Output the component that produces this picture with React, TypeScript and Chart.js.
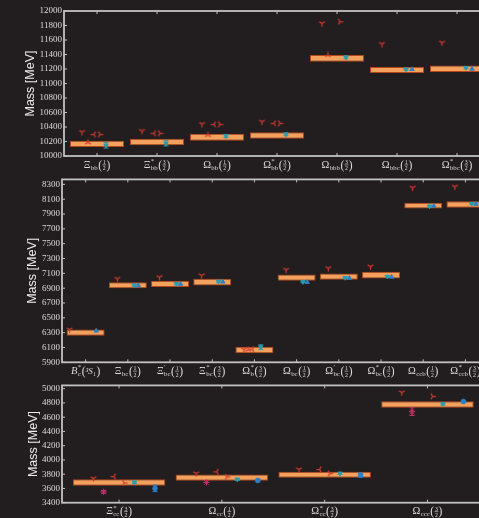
import React, { useEffect, useRef } from "react";
import { Chart, registerables } from "chart.js";

Chart.register(...registerables);

// ---------- bottom sector (bb, bbb, bbc) ----------
const bbLabels = ["Ξ_{bb}(1/2)", "Ξ^{*}_{bb}(3/2)", "Ω_{bb}(1/2)", "Ω^{*}_{bb}(3/2)", "Ω_{bbb}(3/2)", "Ω_{bbc}(1/2)", "Ω^{*}_{bbc}(3/2)"];
const bbTicks = [10000, 10200, 10400, 10600, 10800, 11000, 11200, 11400, 11600, 11800, 12000];
const bbMass = [10168, 10193, 10260, 10283, 11347, 11186, 11203];
const bbUnc = [43, 45, 48, 44, 46, 42, 44];
const bbModelA = [10331, 10345, 10441, 10473, 11830, 11545, 11563];
const bbModelB = [10189, null, 10290, null, 11393, null, null];
const bbModelC = [10299, 10313, 10437, 10451, null, null, null];
const bbModelD = [10299, 10313, 10437, 10451, 11852, null, null];
const bbLatticeE = [10148, 10175, 10276, 10299, 11361, 11196, 11218];
const bbLatticeEErr = [38, 36, 20, 20, 18, 15, 15];
const bbLatticeF = [null, null, null, null, null, 11196, 11200];

// ---------- mixed bottom-charm sector ----------
const bcLabels = ["B^{*}_{c}(³S₁)", "Ξ_{bc}(1/2)", "Ξ^{′}_{bc}(1/2)", "Ξ^{*}_{bc}(3/2)", "Ω^{*}_{b}(3/2)", "Ω_{bc}(1/2)", "Ω^{′}_{bc}(1/2)", "Ω^{*}_{bc}(3/2)", "Ω_{ccb}(1/2)", "Ω^{*}_{ccb}(3/2)"];
const bcTicks = [5900, 6100, 6300, 6500, 6700, 6900, 7100, 7300, 7500, 7700, 7900, 8100, 8300];
const bcMass = [6300, 6940, 6957, 6981, 6065, 7042, 7055, 7075, 8013, 8029];
const bcUnc = [43, 40, 43, 45, 44, 43, 43, 45, 40, 43];
const bcModelH = [6340, null, null, null, null, null, null, null, null, null];
const bcModelA = [null, 7026, 7048, 7071, 6075, 7147, 7169, 7191, 8255, 8268];
const bcModelB = [null, null, null, null, 6070, null, null, null, null, null];
const bcModelC = [null, null, null, null, 6078, null, null, null, null, null];
const bcLatticeE = [null, 6940, 6960, 6990, 6105, 6985, 7040, 7057, 8005, 8040];
const bcLatticeEErr = [null, 15, 15, 15, 30, 12, 12, 12, 12, 12];
const bcLatticeF = [6324, 6935, 6955, 6985, null, 6980, 7035, 7052, 8010, 8035];

// ---------- charm sector (cc, ccc) ----------
const ccLabels = ["Ξ^{*}_{cc}(3/2)", "Ω_{cc}(1/2)", "Ω^{*}_{cc}(3/2)", "Ω_{ccc}(3/2)"];
const ccTicks = [3400, 3600, 3800, 4000, 4200, 4400, 4600, 4800, 5000];
const ccMass = [3683, 3752, 3792, 4778];
const ccUnc = [45, 45, 42, 44];
const ccModelA = [3741, 3811, 3867, 4946];
const ccModelB = [3552, 3685, null, 4678];
const ccModelBErr = [18, null, null, 55];
const ccModelC = [3768, 3834, 3867, null];
const ccModelD = [3678, 3764, 3811, 4892];
const ccLatticeE = [3685, 3727, 3811, 4785];
const ccLatticeEErr = [15, 15, 15, 15];
const ccLatticeG = [3601, 3713, 3787, 4820];
const ccLatticeGErr = [45, 20, 25, 15];

// ---------- styling ----------
const BG = "#221d1e";
const AXIS = "#c2c2c2";
const TEXT = "#dcdcdc";
const BOX_FILL = "#f5a15e";
const BOX_EDGE = "#b4461c";
const RED = "#cf3a30";
const MAGENTA = "#c8306a";
const TEAL = "#2a9cb0";
const BLUE = "#2c80c6";
const SERIF = "'Liberation Serif', 'DejaVu Serif', serif";
const SANS = "'Liberation Sans', Arial, sans-serif";

type Marker = "triDown" | "triUp" | "triLeft" | "triRight" | "star" | "triangleDown" | "triangle" | "circle";
type Series = { values: (number | null)[]; errors?: (number | null)[]; offset: number; marker: Marker; color: string };
type Panel = {
  labels: string[];
  ticks: number[];
  mass: number[];
  unc: number[];
  yMin: number;
  yMax: number;
  xMin: number;
  xMax: number;
  height: number;
  top: number;
  padTop: number;
  padBottom: number;
  axisWidth: number;
  titlePad: number;
  series: Series[];
};

const panels: Panel[] = [
  {
    labels: bbLabels, ticks: bbTicks, mass: bbMass, unc: bbUnc,
    yMin: 10000, yMax: 12000, xMin: -0.55, xMax: 6.45,
    top: 0, height: 172, padTop: 11, padBottom: 16, axisWidth: 64, titlePad: 23,
    series: [
      { values: bbModelA, offset: -0.25, marker: "triDown", color: RED },
      { values: bbModelB, offset: -0.15, marker: "triUp", color: RED },
      { values: bbModelC, offset: -0.05, marker: "triLeft", color: RED },
      { values: bbModelD, offset: 0.05, marker: "triRight", color: RED },
      { values: bbLatticeE, errors: bbLatticeEErr, offset: 0.15, marker: "triangleDown", color: TEAL },
      { values: bbLatticeF, offset: 0.25, marker: "triangle", color: BLUE },
    ],
  },
  {
    labels: bcLabels, ticks: bcTicks, mass: bcMass, unc: bcUnc,
    yMin: 5900, yMax: 8367, xMin: -0.56, xMax: 9.44,
    top: 172, height: 206, padTop: 6.3, padBottom: 15.7, axisWidth: 62, titlePad: 25,
    series: [
      { values: bcModelH, offset: -0.38, marker: "triDown", color: RED },
      { values: bcModelA, offset: -0.25, marker: "triDown", color: RED },
      { values: bcModelB, offset: -0.15, marker: "triUp", color: RED },
      { values: bcModelC, offset: -0.05, marker: "triLeft", color: RED },
      { values: bcLatticeE, errors: bcLatticeEErr, offset: 0.15, marker: "triangleDown", color: TEAL },
      { values: bcLatticeF, offset: 0.25, marker: "triangle", color: BLUE },
    ],
  },
  {
    labels: ccLabels, ticks: ccTicks, mass: ccMass, unc: ccUnc,
    yMin: 3400, yMax: 5046, xMin: -0.555, xMax: 3.55,
    top: 378, height: 140, padTop: 7, padBottom: 15.3, axisWidth: 62, titlePad: 26,
    series: [
      { values: ccModelA, offset: -0.25, marker: "triDown", color: RED },
      { values: ccModelB, errors: ccModelBErr, offset: -0.15, marker: "star", color: MAGENTA },
      { values: ccModelC, offset: -0.05, marker: "triLeft", color: RED },
      { values: ccModelD, offset: 0.05, marker: "triRight", color: RED },
      { values: ccLatticeE, errors: ccLatticeEErr, offset: 0.15, marker: "triangleDown", color: TEAL },
      { values: ccLatticeG, errors: ccLatticeGErr, offset: 0.35, marker: "circle", color: BLUE },
    ],
  },
];

// three-armed marker drawn on a small offscreen canvas
function triMarker(color: string, angle: number): HTMLCanvasElement {
  const size = 9;
  const c = document.createElement("canvas");
  c.width = size;
  c.height = size;
  const g = c.getContext("2d")!;
  g.strokeStyle = color;
  g.lineWidth = 1.25;
  const m = size / 2;
  g.beginPath();
  for (let k = 0; k < 3; k++) {
    const a = ((angle + k * 120) * Math.PI) / 180;
    g.moveTo(m, m);
    g.lineTo(m + 3.3 * Math.cos(a), m + 3.3 * Math.sin(a));
  }
  g.stroke();
  return c;
}

function markerStyle(marker: Marker, color: string) {
  switch (marker) {
    case "triDown": return { pointStyle: triMarker(color, 90), pointRotation: 0, pointRadius: 4 };
    case "triUp": return { pointStyle: triMarker(color, -90), pointRotation: 0, pointRadius: 4 };
    case "triLeft": return { pointStyle: triMarker(color, 180), pointRotation: 0, pointRadius: 4 };
    case "triRight": return { pointStyle: triMarker(color, 0), pointRotation: 0, pointRadius: 4 };
    case "star": return { pointStyle: "star", pointRotation: 0, pointRadius: 3.2 };
    case "triangleDown": return { pointStyle: "triangle", pointRotation: 180, pointRadius: 2.5 };
    case "triangle": return { pointStyle: "triangle", pointRotation: 0, pointRadius: 2.5 };
    default: return { pointStyle: "circle", pointRotation: 0, pointRadius: 2.3 };
  }
}

type LabelSpec = { base: string; sup: string; sub: string; arg: string };

function parseLabel(s: string): LabelSpec {
  const m = s.match(/^([^_^(]+)(?:\^\{([^}]*)\})?(?:_\{([^}]*)\})?\((.*)\)$/);
  if (!m) return { base: s, sup: "", sub: "", arg: "" };
  return { base: m[1], sup: m[2] || "", sub: m[3] || "", arg: m[4] };
}

// particle name with sub/superscripts and a small stacked spin fraction
function drawLabel(ctx: CanvasRenderingContext2D, cx: number, base: number, spec: LabelSpec) {
  const latin = /[A-Za-z]/.test(spec.base);
  const baseFont = `${latin ? "italic " : ""}10.5px ${SERIF}`;
  const scriptFont = `6.8px ${SERIF}`;
  const parenFont = `11.5px ${SERIF}`;
  const fracFont = `5.8px ${SERIF}`;
  const argFont = `italic 9px ${SERIF}`;
  const frac = spec.arg.match(/^(\d+)\/(\d+)$/);

  ctx.font = baseFont;
  const wB = ctx.measureText(spec.base).width;
  ctx.font = scriptFont;
  const wS = Math.max(ctx.measureText(spec.sup).width, ctx.measureText(spec.sub).width);
  ctx.font = parenFont;
  const wP = ctx.measureText("(").width;
  let wA: number;
  if (frac) {
    ctx.font = fracFont;
    wA = Math.max(ctx.measureText(frac[1]).width, ctx.measureText(frac[2]).width) + 1.5;
  } else {
    ctx.font = argFont;
    wA = ctx.measureText(spec.arg).width + 0.5;
  }
  const total = wB + 0.4 + wS + 0.6 + wP + wA + wP;
  let x = cx - total / 2;

  ctx.fillStyle = TEXT;
  ctx.strokeStyle = TEXT;
  ctx.textAlign = "left";
  ctx.textBaseline = "alphabetic";

  ctx.font = baseFont;
  ctx.fillText(spec.base, x, base);
  x += wB + 0.4;
  ctx.font = scriptFont;
  if (spec.sup) ctx.fillText(spec.sup, x, base - 4.6);
  if (spec.sub) ctx.fillText(spec.sub, x, base + 2);
  x += wS + 0.6;
  ctx.font = parenFont;
  ctx.fillText("(", x, base + 1);
  x += wP;
  if (frac) {
    const mid = x + wA / 2;
    ctx.font = fracFont;
    ctx.textAlign = "center";
    ctx.fillText(frac[1], mid, base - 3.7);
    ctx.fillText(frac[2], mid, base + 2.9);
    ctx.lineWidth = 0.6;
    ctx.beginPath();
    ctx.moveTo(mid - wA / 2 + 0.3, base - 2.6);
    ctx.lineTo(mid + wA / 2 - 0.3, base - 2.6);
    ctx.stroke();
    ctx.textAlign = "left";
  } else {
    ctx.font = argFont;
    ctx.fillText(spec.arg, x, base);
  }
  x += wA;
  ctx.font = parenFont;
  ctx.fillText(")", x, base + 1);
}

// error bars with caps for marker series that carry an uncertainty
const errorBarPlugin = {
  id: "errorBars",
  afterDatasetsDraw(chart: any) {
    const { ctx, scales } = chart;
    const x = scales.x;
    const y = scales.y;
    chart.data.datasets.forEach((ds: any, i: number) => {
      if (!ds.errors) return;
      const meta = chart.getDatasetMeta(i);
      ctx.save();
      ctx.strokeStyle = ds.borderColor;
      ctx.lineWidth = 1;
      ds.data.forEach((pt: any, j: number) => {
        const e = ds.errors[j];
        if (!e || !meta.data[j]) return;
        const px = x.getPixelForValue(pt.x);
        const y1 = y.getPixelForValue(pt.y - e);
        const y2 = y.getPixelForValue(pt.y + e);
        ctx.beginPath();
        ctx.moveTo(px, y1);
        ctx.lineTo(px, y2);
        ctx.moveTo(px - 2.5, y1);
        ctx.lineTo(px + 2.5, y1);
        ctx.moveTo(px - 2.5, y2);
        ctx.lineTo(px + 2.5, y2);
        ctx.stroke();
      });
      ctx.restore();
    });
  },
};

function framePlugin(labels: string[]) {
  return {
    id: "frame",
    afterDraw(chart: any) {
      const { ctx, chartArea: a, scales } = chart;
      const x = scales.x;
      const y = scales.y;
      ctx.save();
      ctx.strokeStyle = AXIS;
      ctx.lineWidth = 1.8;
      ctx.strokeRect(a.left, a.top, a.right - a.left, a.bottom - a.top);
      ctx.lineWidth = 1;
      ctx.beginPath();
      labels.forEach((_, i) => {
        const px = x.getPixelForValue(i);
        ctx.moveTo(px, a.top);
        ctx.lineTo(px, a.top + 3);
        ctx.moveTo(px, a.bottom);
        ctx.lineTo(px, a.bottom - 3);
      });
      y.ticks.forEach((t: any) => {
        const py = y.getPixelForValue(t.value);
        ctx.moveTo(a.left, py);
        ctx.lineTo(a.left + 3, py);
      });
      ctx.stroke();
      labels.forEach((s, i) => drawLabel(ctx, x.getPixelForValue(i), a.bottom + 11.5, parseLabel(s)));
      ctx.restore();
    },
  };
}

function buildChart(canvas: HTMLCanvasElement, p: Panel) {
  const datasets: any[] = [
    {
      type: "bar",
      data: p.mass.map((m, i) => ({ x: i, y: [m - p.unc[i], m + p.unc[i]] })),
      backgroundColor: BOX_FILL,
      borderColor: BOX_EDGE,
      borderWidth: 1,
      borderSkipped: false,
      categoryPercentage: 1,
      barPercentage: 0.9,
      order: 10,
    },
  ];
  p.series.forEach((s) => {
    const data: { x: number; y: number }[] = [];
    const errors: (number | null)[] = [];
    s.values.forEach((v, i) => {
      if (v == null) return;
      data.push({ x: i + s.offset, y: v });
      errors.push(s.errors ? s.errors[i] : null);
    });
    datasets.push({
      type: "scatter",
      data,
      errors: s.errors ? errors : undefined,
      backgroundColor: s.color,
      borderColor: s.color,
      borderWidth: 1,
      showLine: false,
      order: 0,
      ...markerStyle(s.marker, s.color),
    });
  });

  return new Chart(canvas, {
    type: "scatter",
    data: { datasets },
    options: {
      animation: false,
      responsive: false,
      devicePixelRatio: 1,
      events: [],
      layout: { padding: { top: p.padTop, right: 16, bottom: p.padBottom, left: 0 } },
      plugins: { legend: { display: false }, tooltip: { enabled: false } },
      scales: {
        x: {
          type: "linear",
          min: p.xMin,
          max: p.xMax,
          offset: false,
          display: false,
          afterBuildTicks: (ax: any) => {
            ax.ticks = p.labels.map((_, i) => ({ value: i }));
          },
        },
        y: {
          type: "linear",
          min: p.yMin,
          max: p.yMax,
          afterBuildTicks: (ax: any) => {
            ax.ticks = p.ticks.map((v) => ({ value: v }));
          },
          afterFit: (ax: any) => {
            ax.width = p.axisWidth;
          },
          grid: { display: false, drawTicks: false },
          border: { display: false },
          ticks: {
            color: TEXT,
            font: { family: SERIF, size: 9 },
            padding: 2,
            autoSkip: false,
            callback: (v: any) => String(v),
          },
          title: {
            display: true,
            text: "Mass [MeV]",
            color: "#ececec",
            font: { family: SANS, size: 12.5 },
            padding: { top: p.titlePad, bottom: 0 },
          },
        },
      },
    } as any,
    plugins: [errorBarPlugin, framePlugin(p.labels)],
  } as any);
}

export default function App() {
  const refs = [useRef<HTMLCanvasElement>(null), useRef<HTMLCanvasElement>(null), useRef<HTMLCanvasElement>(null)];

  useEffect(() => {
    const charts = panels.map((p, i) => buildChart(refs[i].current!, p));
    return () => charts.forEach((c) => c.destroy());
  }, []);

  return (
    <div
      style={{
        position: "absolute",
        left: 0,
        top: 0,
        width: 479,
        height: 518,
        overflow: "hidden",
        background: BG,
      }}
    >
      {panels.map((p, i) => (
        <canvas
          key={i}
          ref={refs[i]}
          width={500}
          height={p.height}
          style={{ position: "absolute", left: 0, top: p.top, width: 500, height: p.height, display: "block" }}
        />
      ))}
    </div>
  );
}
